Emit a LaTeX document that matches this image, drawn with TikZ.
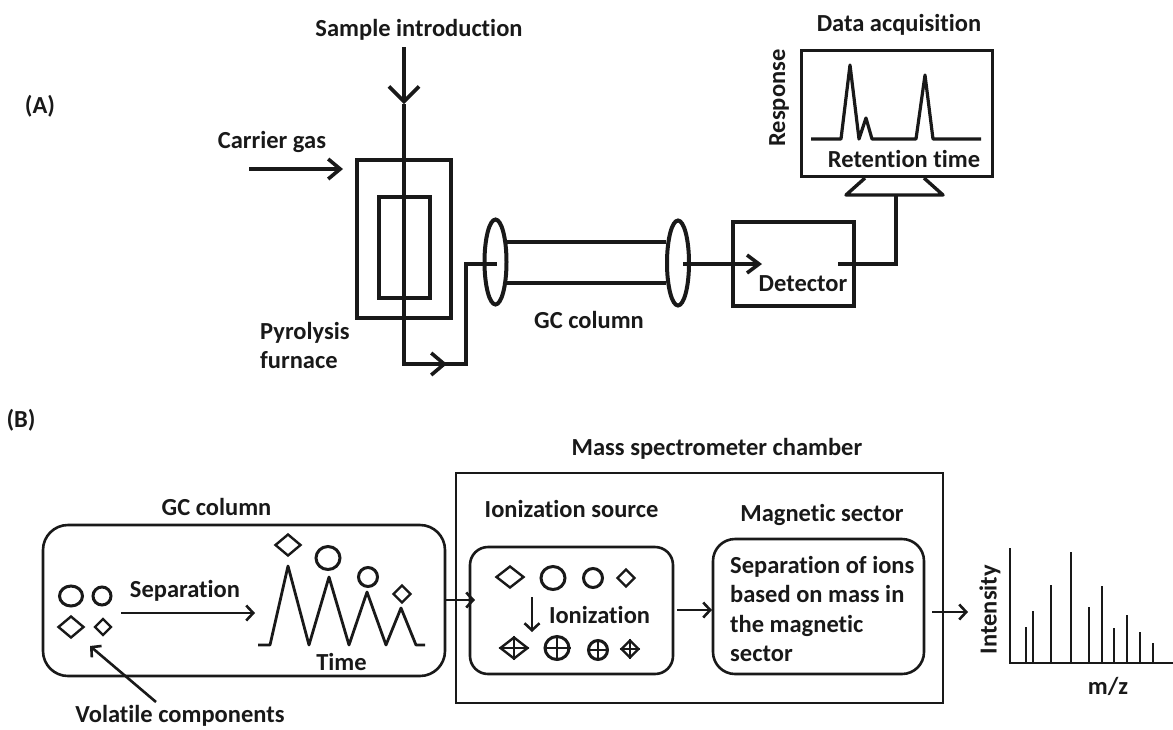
\documentclass[tikz,border=0pt]{standalone}
\usepackage{fontspec}
\setmainfont{Carlito}[BoldFont=Carlito Bold,RawFeature=-liga]
\usetikzlibrary{shapes.geometric,arrows.meta}
\tikzset{
 x=1pt,y=-1pt,
 lab/.style={font=\fontsize{24.5}{27}\selectfont\bfseries,inner sep=0pt,text=black!90,yshift=-2pt},
 thick3/.style={line width=4pt,black!90,line join=miter},
 thin2/.style={line width=2.6pt,black!90},
 chev/.style 2 args={-{Straight Barb[length=#1pt,width=#2pt,line width=3.6pt]}},
 chevs/.style={-{Straight Barb[length=7pt,width=15pt,line width=2.6pt]}},
 abox/.style={draw,thick3,rectangle,inner sep=0pt},
 rbox/.style={draw,thin2,rectangle,rounded corners=#1,inner sep=0pt},
 disc/.style={draw,thick3,ellipse,inner sep=0pt},
 ring/.style={draw,line width=3pt,black!90,ellipse,inner sep=0pt},
 dia/.style={draw,line width=2.4pt,black!90,diamond,inner sep=0pt},
 crossl/.style={line width=1.5pt,black!90},
 curve/.style={line width=2.8pt,black!90,line join=round},
}
\begin{document}
\begin{tikzpicture}
\useasboundingbox (0,0) rectangle (1173,729);
% ---------- text
\node[lab] (sampletxt) at (419,28) {Sample introduction};
\node[lab] (datatxt) at (899,23) {Data acquisition};
\node[lab] (Atxt) at (40,104) {(A)};
\node[lab] (carriertxt) at (272,140) {Carrier gas};
\node[lab,align=left,anchor=north west] (pyro) at (260,320) {Pyrolysis\\[2.5pt]furnace};
\node[lab] (gcA) at (589,318) {GC column};
\node[lab,rotate=90] (resp) at (779,96) {Response};
\node[lab] (Btxt) at (21,418) {(B)};
\node[lab] (mstxt) at (717,447) {Mass spectrometer chamber};
\node[lab] (gcB) at (216.5,505) {GC column};
\node[lab] (septxt) at (185,589) {Separation};
\node[lab] (timetxt) at (341.5,660) {Time};
\node[lab] (voltxt) at (180,714) {Volatile components};
\node[lab] (iontxt) at (571.5,507) {Ionization source};
\node[lab] (magtxt) at (822,513) {Magnetic sector};
\node[lab] (ionz) at (599.5,613) {Ionization};
\node[lab,align=left,anchor=north west] (magbody) at (730,554) {Separation of ions\\[2.5pt]based on mass in\\[2.5pt]the magnetic\\[2.5pt]sector};
\node[lab] (mz) at (1108,684) {m/z};
\node[lab,rotate=90] (inty) at (990,607.5) {Intensity};
% ---------- part A
\node[abox,minimum width=94pt,minimum height=158pt] (furn) at (404,239) {};
\node[abox,minimum width=51pt,minimum height=101pt] (inner) at (404.5,247.5) {};
\coordinate (sampletop) at (404,47);
\coordinate (samplemid) at (404,104);
\coordinate (coilbot) at (404,364);
\coordinate (coilmid) at (447,364);
\coordinate (coilright) at (466,364);
\coordinate (coilup) at (466,264);
\coordinate (coilend) at (497,264);
\draw[thick3,chev={15}{30}] (sampletop) -- (samplemid);
\draw[thick3] (samplemid) -- (coilbot) -- (coilmid);
\draw[thick3,chev={13}{22}] (coilbot) -- (coilmid);
\draw[thick3] (coilmid) -- (coilright) -- (coilup) -- (coilend);
\coordinate (carrierstart) at (249,169);
\coordinate (carrierend) at (343,169);
\draw[thick3,chev={12}{20}] (carrierstart) -- (carrierend);
\node[disc,minimum width=22pt,minimum height=85pt] (ell1) at (495.5,262) {};
\node[disc,minimum width=22pt,minimum height=85pt] (ell2) at (678,263) {};
\coordinate (t1a) at (507,242); \coordinate (t1b) at (666,242);
\coordinate (t2a) at (507,283); \coordinate (t2b) at (666,283);
\draw[thick3] (t1a) -- (t1b);
\draw[thick3] (t2a) -- (t2b);
\node[abox,minimum width=121pt,minimum height=84pt] (det) at (793.5,264) {};
\node[lab] (dettxt) at (803,282) {Detector};
\coordinate (colout) at (683,264);
\coordinate (detin) at (762,264);
\draw[thick3,chev={12}{18}] (colout) -- (detin);
\coordinate (detout) at (838,264);
\coordinate (detcorner) at (896,264);
\coordinate (standbot) at (896,195);
\draw[thick3] (detout) -- (detcorner) -- (standbot);
\node[draw,line width=3pt,black!90,rectangle,inner sep=0pt,minimum width=191pt,minimum height=126pt] (mon) at (896.5,113) {};
\coordinate (s1) at (865,178); \coordinate (s2) at (846,195);
\coordinate (s3) at (943,195); \coordinate (s4) at (924,178);
\draw[thick3,line join=round,line width=3.4pt] (s1) -- (s2) -- (s3) -- (s4);
\draw[curve,line width=3.2pt] (811,139) -- (841,139) -- (850,65) -- (859,139) -- (866,118) -- (872,139) -- (916,139) -- (925,75) -- (933,139) -- (981,139);
\node[lab] (rettxt) at (904,157) {Retention time};
% ---------- part B
\node[rbox=25pt,minimum width=402pt,minimum height=151pt] (gcbox) at (244,600.5) {};
\node[draw,thin2,rectangle,inner sep=0pt,minimum width=487pt,minimum height=230pt] (chamber) at (699.5,588) {};
\node[rbox=18pt,minimum width=203pt,minimum height=127pt] (ionbox) at (571.5,610.5) {};
\node[rbox=22pt,minimum width=211pt,minimum height=135pt] (magbox) at (818.5,606.5) {};
\node[ring,minimum width=23pt,minimum height=20pt] (c1) at (71,596) {};
\node[ring,minimum width=18pt,minimum height=18pt] (c2) at (102,596) {};
\node[dia,minimum width=26pt,minimum height=22pt] (d1) at (71,627) {};
\node[dia,minimum width=17pt,minimum height=17pt] (d2) at (103,627) {};
\coordinate (sepa) at (121,613); \coordinate (sepb) at (255,613);
\draw[thin2,chevs] (sepa) -- (sepb);
\coordinate (vola) at (156,702); \coordinate (volb) at (90,646);
\draw[thin2,chevs] (vola) -- (volb);
\draw[curve] (258,645) -- (270,645) -- (288,566) -- (309,645) -- (329,577) -- (349,645) -- (367,592) -- (386,645) -- (401,608) -- (416,645) -- (425,645);
\node[dia,minimum width=26pt,minimum height=22pt] (pd1) at (288,545) {};
\node[ring,minimum width=24pt,minimum height=23pt] (pc1) at (328,558) {};
\node[ring,minimum width=19pt,minimum height=19pt] (pc2) at (368,577) {};
\node[dia,minimum width=18pt,minimum height=18pt] (pd2) at (402,594) {};
\node[dia,minimum width=28pt,minimum height=22pt] (id1) at (510,577) {};
\node[ring,minimum width=24pt,minimum height=23pt] (ic1) at (553,578) {};
\node[ring,minimum width=19pt,minimum height=19pt] (ic2) at (593,578) {};
\node[dia,minimum width=18pt,minimum height=18pt] (id2) at (626,578) {};
\coordinate (ia) at (532,597); \coordinate (ib) at (532,632);
\draw[thin2,chevs] (ia) -- (ib);
\node[dia,minimum width=28pt,minimum height=22pt] (jd1) at (514,648) {};
\node[ring,minimum width=24pt,minimum height=23pt] (jc1) at (557,648) {};
\node[ring,minimum width=19pt,minimum height=19pt] (jc2) at (598,650) {};
\node[dia,minimum width=18pt,minimum height=18pt] (jd2) at (630,649) {};
\foreach \n in {jd1,jc1,jc2,jd2}{
  \draw[crossl] (\n.north) -- (\n.south);
  \draw[crossl] (\n.west) -- (\n.east);
}
\coordinate (a1) at (445,600); \coordinate (a2) at (475,600);
\draw[thin2,chevs] (a1) -- (a2);
\coordinate (a3) at (677,610); \coordinate (a4) at (712,610);
\draw[thin2,chevs] (a3) -- (a4);
\coordinate (a5) at (932,612); \coordinate (a6) at (968,612);
\draw[thin2,chevs] (a5) -- (a6);
% ---------- spectrum
\coordinate (axtop) at (1010,548); \coordinate (axo) at (1010,663); \coordinate (axr) at (1173,663);
\draw[line width=2.6pt,black!90] (axtop) -- (axo) -- (axr);
\foreach \x/\y in {1026/627,1033/611,1051/585,1071/552,1089/607,1102/586,1114/628,1127/615,1140/632,1153/643}
  \draw[line width=2.6pt,black!90] (\x,\y) -- (\x,663);
\end{tikzpicture}
\end{document}
